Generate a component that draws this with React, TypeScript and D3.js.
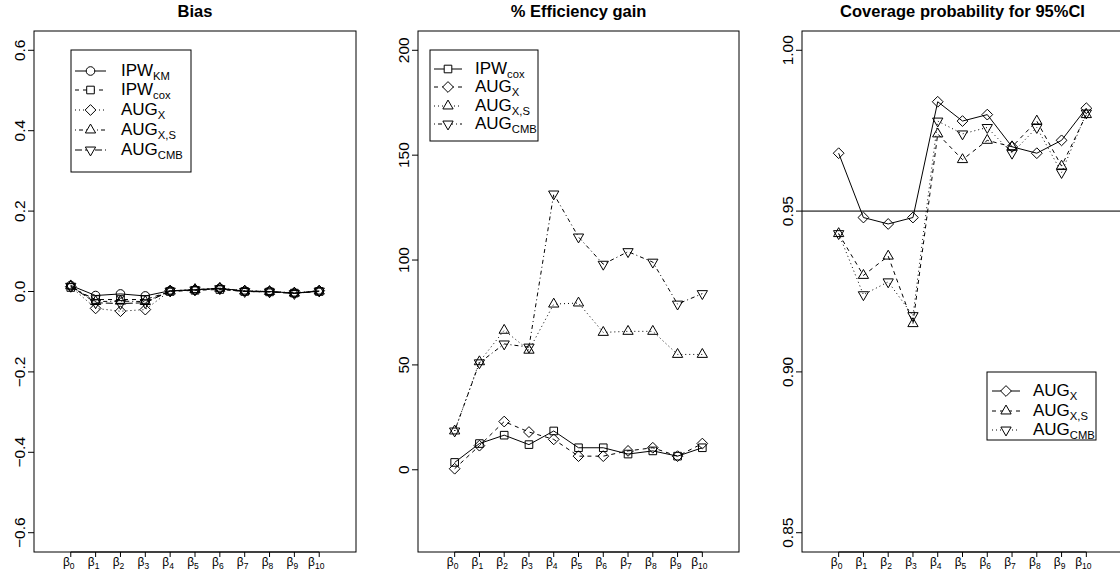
import React from "react";
import * as d3 from "d3";

// ---------- data ----------
const betaIdx = ["0", "1", "2", "3", "4", "5", "6", "7", "8", "9", "10"];

// Bias panel
const biasIPWKM = [0.015, -0.01, -0.006, -0.011, 0.002, 0.004, 0.008, 0.001, 0.0, -0.004, 0.001];
const biasIPWcox = [0.01, -0.02, -0.02, -0.02, 0.0, 0.003, 0.005, 0.0, -0.001, -0.004, 0.0];
const biasAUGX = [0.012, -0.042, -0.049, -0.045, 0.002, 0.004, 0.008, 0.002, 0.0, -0.003, 0.002];
const biasAUGXS = [0.014, -0.025, -0.024, -0.025, 0.001, 0.005, 0.008, 0.001, 0.0, -0.004, 0.001];
const biasAUGCMB = [0.013, -0.028, -0.03, -0.028, 0.001, 0.004, 0.007, 0.0, -0.001, -0.005, 0.001];

// Efficiency gain panel
const effIPWcox = [3.5, 12.5, 16.5, 12, 18.5, 10.5, 10.5, 7.5, 9, 6.5, 10.5];
const effAUGX = [0.5, 11.5, 23, 18, 14.5, 6.5, 6.5, 9, 10.5, 6.5, 12.5];
const effAUGXS = [18.5, 51.5, 66.5, 57, 79, 79.5, 65.5, 66, 66, 55, 55];
const effAUGCMB = [18.5, 51, 60, 58.5, 131.5, 111, 98, 104, 99, 79, 84];

// Coverage panel
const covAUGX = [0.968, 0.948, 0.946, 0.948, 0.984, 0.978, 0.98, 0.97, 0.968, 0.972, 0.982];
const covAUGXS = [0.943, 0.93, 0.936, 0.915, 0.974, 0.966, 0.972, 0.970, 0.978, 0.964, 0.980];
const covAUGCMB = [0.943, 0.924, 0.928, 0.9175, 0.978, 0.974, 0.976, 0.968, 0.976, 0.962, 0.9805];

const biasTicks = [-0.6, -0.4, -0.2, 0.0, 0.2, 0.4, 0.6];
const effTicks = [0, 50, 100, 150, 200];
const covTicks = [0.85, 0.9, 0.95, 1.0];

type Marker = "circle" | "square" | "diamond" | "up" | "down";
type Series = { name: string; sub: string; values: number[]; marker: Marker; dash: string };

const DASH = { solid: "", dashed: "4,4", dotted: "1,3", dotdash: "1,3,4,3", longdash: "7,3" };

const biasSeries: Series[] = [
  { name: "IPW", sub: "KM", values: biasIPWKM, marker: "circle", dash: DASH.solid },
  { name: "IPW", sub: "cox", values: biasIPWcox, marker: "square", dash: DASH.dashed },
  { name: "AUG", sub: "X", values: biasAUGX, marker: "diamond", dash: DASH.dotted },
  { name: "AUG", sub: "X,S", values: biasAUGXS, marker: "up", dash: DASH.dotdash },
  { name: "AUG", sub: "CMB", values: biasAUGCMB, marker: "down", dash: DASH.longdash },
];
const effSeries: Series[] = [
  { name: "IPW", sub: "cox", values: effIPWcox, marker: "square", dash: DASH.solid },
  { name: "AUG", sub: "X", values: effAUGX, marker: "diamond", dash: DASH.dashed },
  { name: "AUG", sub: "X,S", values: effAUGXS, marker: "up", dash: DASH.dotted },
  { name: "AUG", sub: "CMB", values: effAUGCMB, marker: "down", dash: DASH.dotdash },
];
const covSeries: Series[] = [
  { name: "AUG", sub: "X", values: covAUGX, marker: "diamond", dash: DASH.solid },
  { name: "AUG", sub: "X,S", values: covAUGXS, marker: "up", dash: DASH.dashed },
  { name: "AUG", sub: "CMB", values: covAUGCMB, marker: "down", dash: DASH.dotted },
];

// ---------- layout ----------
const W = 1120;
const H = 580;
const TOP = 31;
const BOTTOM = 552;
const FONT = "'Liberation Sans', Arial, Helvetica, sans-serif";
const R = 4.3;

function markerPath(m: Marker, r: number): string {
  if (m === "circle") {
    return `M${-r},0A${r},${r} 0 1,0 ${r},0A${r},${r} 0 1,0 ${-r},0Z`;
  }
  if (m === "square") {
    const s = r * 0.886;
    return `M${-s},${-s}H${s}V${s}H${-s}Z`;
  }
  if (m === "diamond") {
    const s = r * 1.253;
    return `M0,${-s}L${s},0L0,${s}L${-s},0Z`;
  }
  const xc = r * 0.886;
  const rr = 1.5551 * xc;
  const yc = 0.7776 * xc;
  const hx = 1.3468 * xc;
  if (m === "up") return `M0,${-rr}L${hx},${yc}L${-hx},${yc}Z`;
  return `M0,${rr}L${hx},${-yc}L${-hx},${-yc}Z`;
}

function LabelWithSub({ x, y, name, sub, size, anchor }: any) {
  return (
    <text x={x} y={y} fontFamily={FONT} fontSize={size} textAnchor={anchor || "start"} fill="#000">
      {name}
      <tspan fontSize={size * 0.66} dy={size * 0.25}>{sub}</tspan>
    </text>
  );
}

type PanelProps = {
  left: number;
  right: number;
  title: string;
  ylim: [number, number];
  ticks: number[];
  fmt: (v: number) => string;
  series: Series[];
  legend: { x0: number; y0: number; w: number; h: number; rows: number[]; lx0: number; lx1: number; tx: number };
  hline?: number;
};

function Panel(p: PanelProps) {
  const ext = (p.ylim[1] - p.ylim[0]) * 0.04;
  const y = d3.scaleLinear().domain([p.ylim[0] - ext, p.ylim[1] + ext]).range([BOTTOM, TOP]);
  const x = d3.scaleLinear().domain([-0.48, 12.48]).range([p.left, p.right]);
  const xs = betaIdx.map((_, i) => i + 1);
  const line = d3
    .line<number>()
    .x((_, i) => x(i + 1))
    .y((d) => y(d));
  const cx = (p.left + p.right) / 2;
  return (
    <g>
      <text x={cx} y={17} textAnchor="middle" fontFamily={FONT} fontWeight="bold" fontSize={16.5}>
        {p.title}
      </text>
      {p.hline !== undefined && (
        <line x1={p.left} x2={p.right} y1={y(p.hline)} y2={y(p.hline)} stroke="#666" strokeWidth={1.6} />
      )}
      <rect x={p.left} y={TOP} width={p.right - p.left} height={BOTTOM - TOP} fill="none" stroke="#000" strokeWidth={1} />
      {/* y axis */}
      {p.ticks.map((t) => (
        <g key={t}>
          <line x1={p.left - 6} x2={p.left} y1={y(t)} y2={y(t)} stroke="#000" />
          <text
            transform={`translate(${p.left - 9},${y(t)}) rotate(-90)`}
            textAnchor="middle"
            fontFamily={FONT}
            fontSize={15.5}
          >
            {p.fmt(t)}
          </text>
        </g>
      ))}
      {/* x axis */}
      <line x1={x(1)} x2={x(11)} y1={BOTTOM} y2={BOTTOM} stroke="#000" />
      {xs.map((v, i) => (
        <g key={v}>
          <line x1={x(v)} x2={x(v)} y1={BOTTOM} y2={BOTTOM + 5} stroke="#000" />
          <text x={x(v) - (betaIdx[i].length > 1 ? 3 : 2)} y={566} textAnchor="middle" fontFamily={FONT} fontSize={12}>
            β<tspan fontSize={8.5} dy={2.5}>{betaIdx[i]}</tspan>
          </text>
        </g>
      ))}
      {/* series */}
      {p.series.map((s, k) => (
        <g key={k}>
          <path d={line(s.values) || ""} fill="none" stroke="#000" strokeWidth={1} strokeDasharray={s.dash} />
          {s.values.map((v, i) => (
            <path
              key={i}
              d={markerPath(s.marker, R)}
              transform={`translate(${x(i + 1)},${y(v)})`}
              fill="none"
              stroke="#000"
              strokeWidth={1}
            />
          ))}
        </g>
      ))}
      {/* legend */}
      <rect x={p.legend.x0} y={p.legend.y0} width={p.legend.w} height={p.legend.h} fill="#fff" stroke="#000" />
      {p.series.map((s, k) => {
        const ry = p.legend.rows[k];
        const mx = (p.legend.lx0 + p.legend.lx1) / 2;
        return (
          <g key={k}>
            <line x1={p.legend.lx0} x2={p.legend.lx1} y1={ry} y2={ry} stroke="#000" strokeDasharray={s.dash} />
            <path d={markerPath(s.marker, R)} transform={`translate(${mx},${ry})`} fill="#fff" stroke="#000" />
            <LabelWithSub x={p.legend.tx} y={ry + 5} name={s.name} sub={s.sub} size={17} />
          </g>
        );
      })}
    </g>
  );
}

const fmtBias = (v: number) => (v < 0 ? "\u2212" + Math.abs(v).toFixed(1) : v.toFixed(1));
const fmtEff = (v: number) => String(v);
const fmtCov = (v: number) => v.toFixed(2);

export default function App() {
  return (
    <svg
      width={W}
      height={H}
      style={{ position: "fixed", left: 0, top: 0, background: "#fff" }}
      xmlns="http://www.w3.org/2000/svg"
    >
      <rect x={0} y={0} width={W} height={H} fill="#fff" />
      <Panel
        left={34}
        right={356}
        title="Bias"
        ylim={[-0.6, 0.6]}
        ticks={biasTicks}
        fmt={fmtBias}
        series={biasSeries}
        legend={{ x0: 71, y0: 50, w: 120, h: 122, rows: [71, 90, 110, 130, 150], lx0: 75, lx1: 106, tx: 121 }}
      />
      <Panel
        left={418}
        right={739}
        title="% Efficiency gain"
        ylim={[-30, 200]}
        ticks={effTicks}
        fmt={fmtEff}
        series={effSeries}
        legend={{ x0: 430, y0: 50, w: 108, h: 91, rows: [69, 87, 106, 124], lx0: 434, lx1: 462, tx: 475 }}
      />
      <Panel
        left={802}
        right={1123}
        title="Coverage probability for 95%CI"
        ylim={[0.85, 1.0]}
        ticks={covTicks}
        fmt={fmtCov}
        series={covSeries}
        hline={0.95}
        legend={{ x0: 987, y0: 372, w: 109, h: 68, rows: [391, 411, 430], lx0: 992, lx1: 1020, tx: 1033 }}
      />
    </svg>
  );
}
